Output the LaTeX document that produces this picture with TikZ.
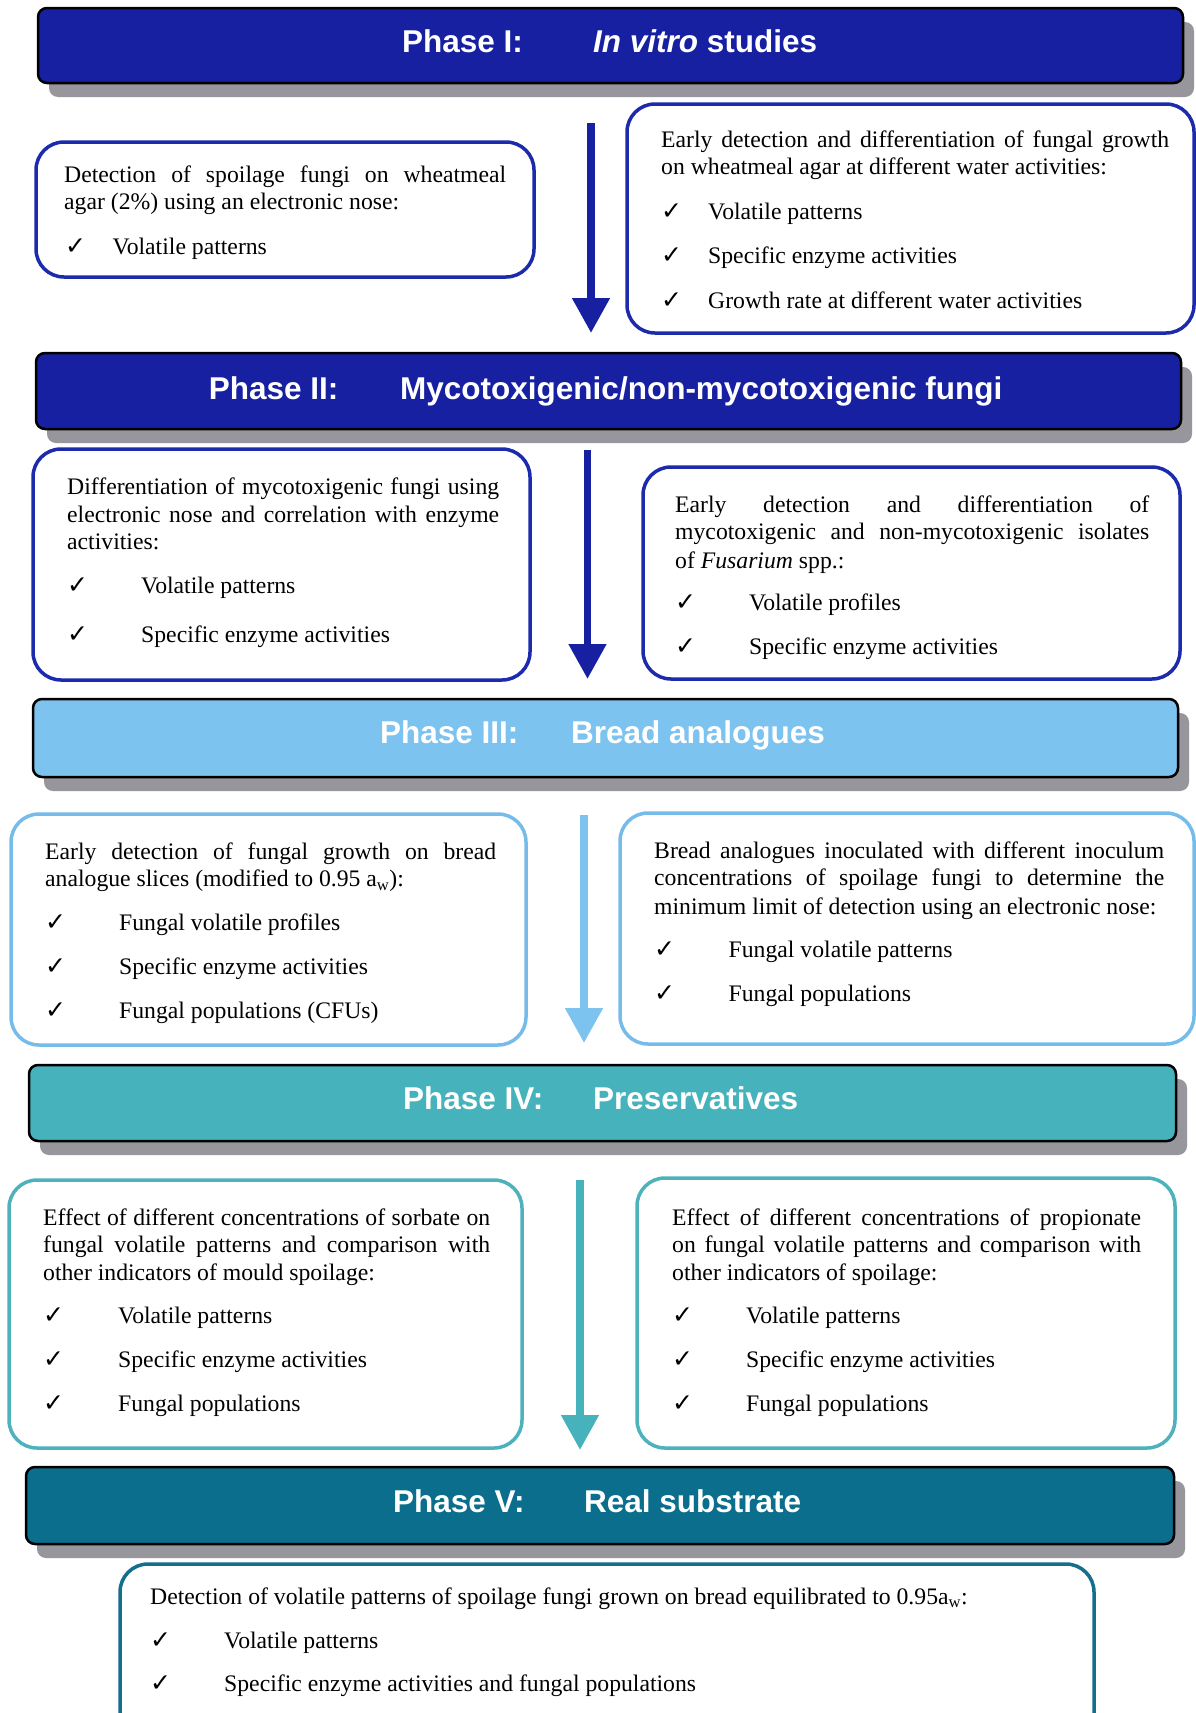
\documentclass[tikz,border=0pt]{standalone}
\usepackage{fontspec}
\setmainfont{Liberation Serif}
\newfontfamily\hdfont{Liberation Sans}
\newfontfamily\ckfont{DejaVu Sans}
\usetikzlibrary{arrows.meta}
\definecolor{dblue}{RGB}{22,32,160}
\definecolor{dbluebd}{RGB}{28,42,172}
\definecolor{lblue}{RGB}{125,195,240}
\definecolor{lbluebd}{RGB}{118,188,234}
\definecolor{teal2}{RGB}{70,178,188}
\definecolor{tealbd}{RGB}{78,178,188}
\definecolor{dteal}{RGB}{10,110,140}
\definecolor{dtealbd}{RGB}{20,110,140}
\definecolor{shadowgray}{RGB}{150,150,156}
\newcommand\Ln[4]{\node[txt] (#1) at (#2,#3) {#4};}
\newcommand\JLn[5]{\node[txt] (#1) at (#2,#3) {\makebox[#4pt][s]{#5}};}
\newcommand\Ck[5]{\node[ck] (#1c) at (#2,#4) {✓};\node[txt] (#1) at (#3,#4) {#5};}
\begin{document}
\begin{tikzpicture}[x=1pt,y=-1pt,
 txt/.style={inner sep=0pt, anchor=base west, yshift=-2pt, font=\fontsize{23.7}{27}\selectfont},
 ck/.style={inner sep=0pt, anchor=base west, yshift=-2pt, font=\ckfont\fontsize{25}{27}\selectfont},
 ban/.style={draw=black, line width=2.5pt, rounded corners=9pt},
 shd/.style={fill=shadowgray, rounded corners=9pt},
 hd/.style={inner sep=0pt, anchor=base west, text=white, font=\hdfont\bfseries\fontsize{31.5}{34}\selectfont},
 box/.style={line width=3.5pt, rounded corners=28pt, fill=white},
 arr/.style={draw=#1, line width=7.8pt, -{Triangle[width=36pt,length=35pt]}}
]
\clip (0,0) rectangle (1196,1713);
\fill[white] (0,0) rectangle (1196,1713);

% ---------------- Phase I
\fill[shd] (49,22) rectangle (1194,97);
\filldraw[ban, fill=dblue] (38,8) rectangle (1183,83);
\node[hd] (h1a) at (402,52) {Phase I:};
\node[hd] (h1b) at (593,52) {\textit{In vitro} studies};

\draw[box, draw=dbluebd] (36,142) rectangle (534,277);
\JLn{t1a}{64}{180}{442}{Detection of spoilage fungi on wheatmeal}
\Ln{t1b}{64}{207.5}{agar (2\%) using an electronic nose:}
\Ck{t1c}{65}{112.5}{252}{Volatile patterns}

\draw[box, draw=dbluebd] (627,104) rectangle (1194,333);
\JLn{t2a}{661}{145}{508}{Early detection and differentiation of fungal growth}
\Ln{t2b}{661}{172.5}{on wheatmeal agar at different water activities:}
\Ck{t2c}{661}{708}{217}{Volatile patterns}
\Ck{t2d}{661}{708}{261}{Specific enzyme activities}
\Ck{t2e}{661}{708}{306}{Growth rate at different water activities}

\coordinate (a1s) at (591,123);
\coordinate (a1e) at (591,333);
\draw[arr=dblue] (a1s) -- (a1e);

% ---------------- Phase II
\fill[shd] (47,367) rectangle (1192,443);
\filldraw[ban, fill=dblue] (36,353) rectangle (1181,429);
\node[hd] (h2a) at (208.6,399) {Phase II:};
\node[hd] (h2b) at (400,399) {Mycotoxigenic/non-mycotoxigenic fungi};

\draw[box, draw=dbluebd] (33,449) rectangle (530,680);
\JLn{t3a}{67}{492.5}{432}{Differentiation of mycotoxigenic fungi using}
\JLn{t3b}{67}{520}{432}{electronic nose and correlation with enzyme}
\Ln{t3c}{67}{547}{activities:}
\Ck{t3d}{67}{141}{591}{Volatile patterns}
\Ck{t3e}{67}{141}{640}{Specific enzyme activities}

\draw[box, draw=dbluebd] (643,467) rectangle (1180,679);
\JLn{t4a}{675}{510}{474}{Early detection and differentiation of}
\JLn{t4b}{675}{537.5}{474}{mycotoxigenic and non-mycotoxigenic isolates}
\Ln{t4c}{675}{566}{of \textit{Fusarium} spp.:}
\Ck{t4d}{675}{749}{608}{Volatile profiles}
\Ck{t4e}{675}{749}{652}{Specific enzyme activities}

\coordinate (a2s) at (587.5,450);
\coordinate (a2e) at (587.5,679);
\draw[arr=dblue] (a2s) -- (a2e);

% ---------------- Phase III
\fill[shd] (44,713) rectangle (1189,791);
\filldraw[ban, fill=lblue] (33,699) rectangle (1178,777);
\node[hd] (h3a) at (380,743) {Phase III:};
\node[hd] (h3b) at (571,743) {Bread analogues};

\draw[box, draw=lbluebd] (11,814) rectangle (526,1045);
\JLn{t5a}{45}{857}{451}{Early detection of fungal growth on bread}
\Ln{t5b}{45}{884.5}{analogue slices (modified to 0.95 a\textsubscript{w}):}
\Ck{t5c}{45}{119}{928}{Fungal volatile profiles}
\Ck{t5d}{45}{119}{972}{Specific enzyme activities}
\Ck{t5e}{45}{119}{1016}{Fungal populations (CFUs)}

\draw[box, draw=lbluebd] (620,813) rectangle (1194,1044);
\JLn{t6a}{654}{856}{510}{Bread analogues inoculated with different inoculum}
\JLn{t6b}{654}{883.5}{510}{concentrations of spoilage fungi to determine the}
\Ln{t6c}{654}{912}{minimum limit of detection using an electronic nose:}
\Ck{t6d}{654}{728.5}{955.5}{Fungal volatile patterns}
\Ck{t6e}{654}{728.5}{999}{Fungal populations}

\coordinate (a3s) at (584,815);
\coordinate (a3e) at (584,1043);
\draw[arr=lblue] (a3s) -- (a3e);

% ---------------- Phase IV
\fill[shd] (40,1079) rectangle (1187,1155);
\filldraw[ban, fill=teal2] (29,1065) rectangle (1176,1141);
\node[hd] (h4a) at (403,1109) {Phase IV:};
\node[hd] (h4b) at (593,1109) {Preservatives};

\draw[box, draw=tealbd] (9,1180) rectangle (522,1448);
\JLn{t7a}{43}{1223}{447}{Effect of different concentrations of sorbate on}
\JLn{t7b}{43}{1250.5}{447}{fungal volatile patterns and comparison with}
\Ln{t7c}{43}{1278}{other indicators of mould spoilage:}
\Ck{t7d}{43}{118}{1321.5}{Volatile patterns}
\Ck{t7e}{43}{118}{1365}{Specific enzyme activities}
\Ck{t7f}{43}{118}{1409}{Fungal populations}

\draw[box, draw=tealbd] (637,1178) rectangle (1175,1448);
\JLn{t8a}{672}{1223}{469}{Effect of different concentrations of propionate}
\JLn{t8b}{672}{1250.5}{469}{on fungal volatile patterns and comparison with}
\Ln{t8c}{672}{1278}{other indicators of spoilage:}
\Ck{t8d}{672}{746}{1321.5}{Volatile patterns}
\Ck{t8e}{672}{746}{1365}{Specific enzyme activities}
\Ck{t8f}{672}{746}{1409}{Fungal populations}

\coordinate (a4s) at (580,1180);
\coordinate (a4e) at (580,1450);
\draw[arr=teal2] (a4s) -- (a4e);

% ---------------- Phase V
\fill[shd] (37,1481) rectangle (1185,1558);
\filldraw[ban, fill=dteal] (26,1467) rectangle (1174,1544);
\node[hd] (h5a) at (393,1512) {Phase V:};
\node[hd] (h5b) at (584,1512) {Real substrate};

\draw[box, draw=dtealbd] (120,1564) rectangle (1094,1750);
\Ln{t9a}{150}{1602}{Detection of volatile patterns of spoilage fungi grown on bread equilibrated to 0.95a\textsubscript{w}:}
\Ck{t9b}{150}{224}{1646}{Volatile patterns}
\Ck{t9c}{150}{224}{1689.5}{Specific enzyme activities and fungal populations}
\end{tikzpicture}
\end{document}
